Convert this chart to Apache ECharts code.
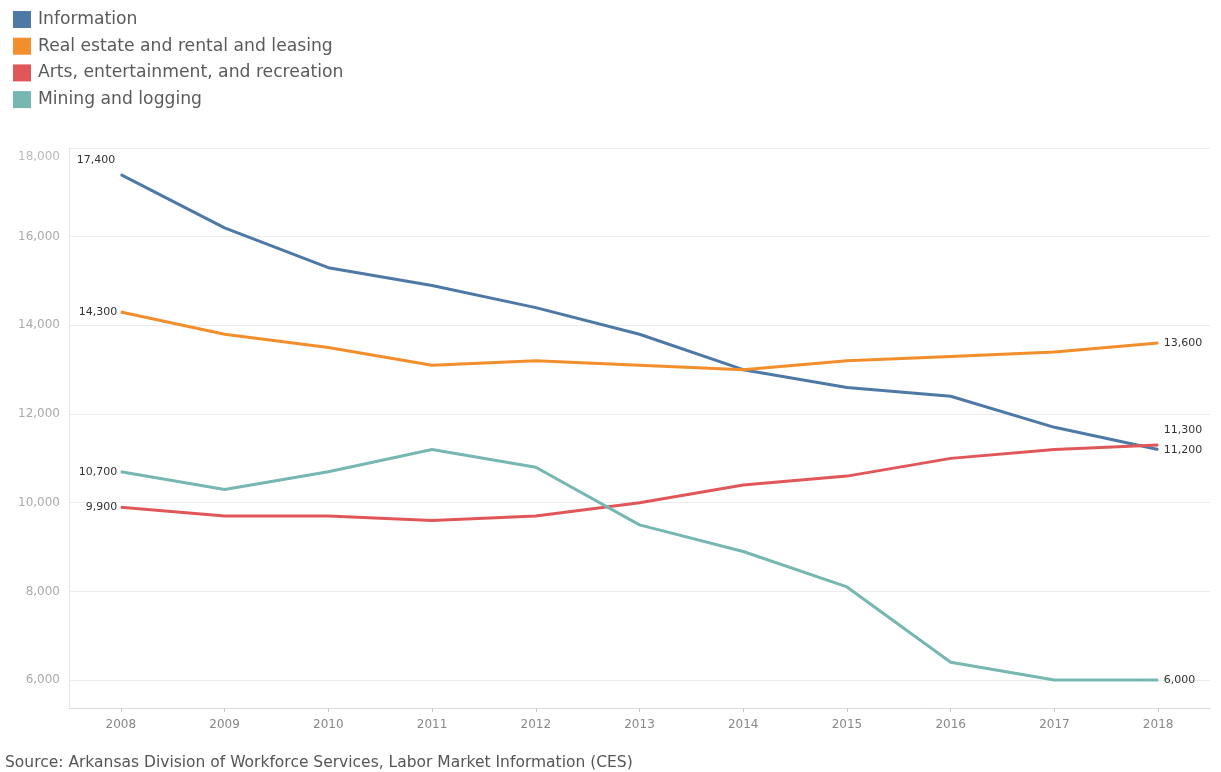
<!DOCTYPE html>
<html>
<head>
<meta charset="utf-8">
<script src="https://cdn.jsdelivr.net/npm/echarts@6/dist/echarts.min.js"></script>
<style>
  html, body { margin: 0; padding: 0; background: #fff; }
  #chart { width: 1221px; height: 772px; }
</style>
</head>
<body>
<div id="chart"></div>
<script>
// Employment by industry, Arkansas, 2008–2018
const years = ['2008', '2009', '2010', '2011', '2012', '2013', '2014', '2015', '2016', '2017', '2018'];

const information = [17400, 16200, 15300, 14900, 14400, 13800, 13000, 12600, 12400, 11700, 11200];
const realEstate  = [14300, 13800, 13500, 13100, 13200, 13100, 13000, 13200, 13300, 13400, 13600];
const arts        = [9900, 9700, 9700, 9600, 9700, 10000, 10400, 10600, 11000, 11200, 11300];
const mining      = [10700, 10300, 10700, 11200, 10800, 9500, 8900, 8100, 6400, 6000, 6000];

const seriesNames = [
  'Information',
  'Real estate and rental and leasing',
  'Arts, entertainment, and recreation',
  'Mining and logging'
];
const seriesColors = ['#4e79a7', '#f28e2b', '#e15759', '#76b7b2'];

const yTicks = [6000, 8000, 10000, 12000, 14000, 16000, 18000];
const sourceNote = 'Source: Arkansas Division of Workforce Services, Labor Market Information (CES)';

const FONT = 'DejaVu Sans';
const fmt = v => v.toLocaleString('en-US');

// label placement for the first and last point of each line
const endLabelStyle = [
  { first: { position: 'left', distance: 5, offset: [0, -14] }, last: { position: 'right', distance: 5, offset: [0, 1] } },
  { first: { position: 'left', distance: 3, offset: [0, 0] },   last: { position: 'right', distance: 5, offset: [0, 0] } },
  { first: { position: 'left', distance: 3, offset: [0, 0] },   last: { position: 'right', distance: 5, offset: [0, -15] } },
  { first: { position: 'left', distance: 3, offset: [0, 0] },   last: { position: 'right', distance: 5, offset: [0, 0] } }
];

function buildData(values, idx) {
  return values.map((v, i) => {
    if (i === 0 || i === values.length - 1) {
      const s = i === 0 ? endLabelStyle[idx].first : endLabelStyle[idx].last;
      return {
        value: v,
        label: {
          show: true,
          position: s.position,
          distance: s.distance,
          offset: s.offset,
          formatter: p => fmt(p.value),
          color: '#333',
          fontFamily: FONT,
          fontSize: 11
        }
      };
    }
    return v;
  });
}

const allValues = [information, realEstate, arts, mining];

const chart = echarts.init(document.getElementById('chart'), null, { renderer: 'canvas' });

chart.setOption({
  animation: false,
  backgroundColor: '#ffffff',
  color: seriesColors,
  title: {
    text: sourceNote,
    left: 5,
    bottom: 1,
    padding: 0,
    textStyle: { fontFamily: FONT, fontSize: 15.5, fontWeight: 'normal', color: '#555' }
  },
  legend: {
    orient: 'vertical',
    left: 13,
    top: 11,
    padding: 0,
    itemWidth: 18,
    itemHeight: 17,
    itemGap: 9.7,
    icon: 'rect',
    data: seriesNames,
    textStyle: { fontFamily: FONT, fontSize: 17.2, color: '#5a5a5a', padding: [0, 0, 0, 2] }
  },
  grid: { left: 69, right: 11, top: 148, bottom: 64 },
  xAxis: {
    type: 'category',
    data: years,
    boundaryGap: true,
    axisLine: { show: true, lineStyle: { color: '#d9d9d9', width: 1 } },
    axisTick: { show: true, alignWithLabel: true, length: 4, lineStyle: { color: '#c8c8c8' } },
    axisLabel: { fontFamily: FONT, fontSize: 12, color: '#888', margin: 11 },
    splitLine: { show: false }
  },
  yAxis: {
    type: 'value',
    min: 5370,
    max: 18000,
    axisLine: { show: true, lineStyle: { color: '#e6e6e6', width: 1 } },
    axisTick: { show: false, customValues: yTicks },
    axisLabel: {
      customValues: yTicks,
      fontFamily: FONT,
      fontSize: 12,
      color: '#aaa',
      margin: 9,
      formatter: v => (v === 18000 ? '{t|' + fmt(v) + '}' : fmt(v)),
      rich: { t: { fontFamily: FONT, fontSize: 12, color: '#bbb', padding: [18, 0, 0, 0] } }
    },
    splitLine: { show: true, lineStyle: { color: '#ececec', width: 1 } }
  },
  series: allValues.map((vals, idx) => ({
    name: seriesNames[idx],
    type: 'line',
    data: buildData(vals, idx),
    symbol: 'circle',
    symbolSize: 1,
    showSymbol: true,
    lineStyle: { width: 3, color: seriesColors[idx] },
    itemStyle: { color: seriesColors[idx] },
    emphasis: { disabled: true },
    z: 2 + idx
  }))
});
</script>
</body>
</html>
